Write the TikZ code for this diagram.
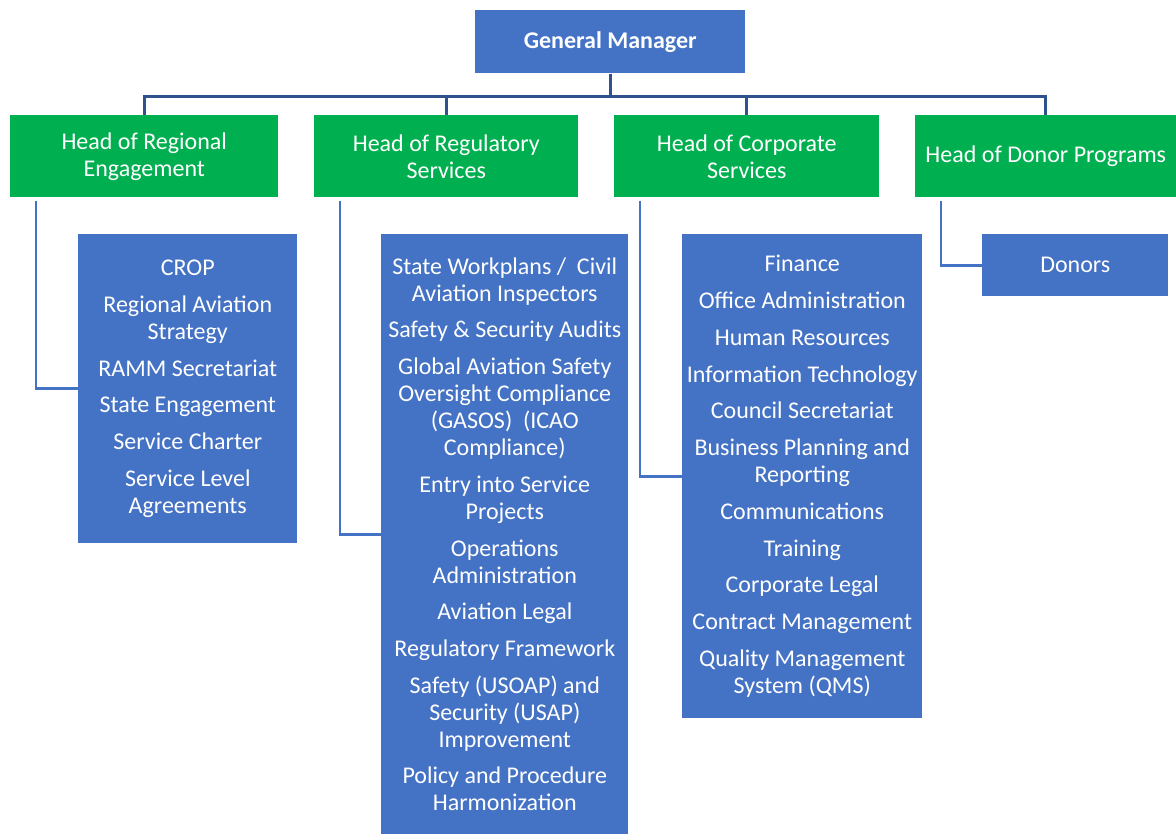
\documentclass[tikz,border=0pt]{standalone}
\usepackage{fontspec}
\setmainfont{Carlito}
\usepackage{tikz}

\definecolor{boxblue}{HTML}{4472C4}
\definecolor{headgreen}{HTML}{00B050}
\definecolor{linkblue}{HTML}{2F528F}
\newcommand{\pix}{0.75pt}
\newcommand{\brk}{\\[7.3pt]}

\begin{document}
\begin{tikzpicture}[x=\pix,y=-\pix,
  box/.style={fill=boxblue,text=white,align=center,anchor=north west,inner sep=0pt,font=\fontsize{18}{20.25}\selectfont},
  head/.style={box,fill=headgreen,minimum height=82*\pix},
  bus/.style={draw=linkblue,line width=2.1pt},
  conn/.style={draw=boxblue,line width=2pt}]

\useasboundingbox (0,0) rectangle (1176,834);

\node[box,minimum width=270*\pix,minimum height=63*\pix,font=\bfseries\fontsize{18}{20.25}\selectfont] (gm) at (475,10) {General Manager};

\foreach \i/\x/\w/\txt in {1/10/268/{Head of Regional\\Engagement},2/314/264/{Head of Regulatory\\Services},3/614/265/{Head of Corporate\\Services},4/915/261/{Head of Donor Programs}}{%
  \node[head,minimum width=\w*\pix] (h\i) at (\x,115) {\txt};}

\node[box,minimum width=219*\pix,minimum height=309*\pix] (s1) at (78,234)
  {CROP\brk Regional Aviation\\Strategy\brk RAMM Secretariat\brk State Engagement\brk
   Service Charter\brk Service Level\\Agreements};
\node[box,minimum width=247*\pix,minimum height=600*\pix] (s2) at (381,234)
  {State Workplans /~ Civil\\Aviation Inspectors\brk Safety \& Security Audits\brk
   Global Aviation Safety\\Oversight Compliance\\(GASOS)~ (ICAO\\Compliance)\brk
   Entry into Service\\Projects\brk Operations\\Administration\brk Aviation Legal\brk
   Regulatory Framework\brk Safety (USOAP) and\\Security (USAP)\\Improvement\brk
   Policy and Procedure\\Harmonization};
\node[box,minimum width=240*\pix,minimum height=484*\pix] (s3) at (682,234)
  {Finance\brk Office Administration\brk Human Resources\brk Information Technology\brk
   Council Secretariat\brk Business Planning and\\Reporting\brk Communications\brk
   Training\brk Corporate Legal\brk Contract Management\brk Quality Management\\System (QMS)};
\node[box,minimum width=186*\pix,minimum height=62*\pix] (s4) at (982,234) {Donors};

% general manager down to the four heads
\foreach \i in {1,...,4}
  \draw[bus] (gm.south) -- ++(0,23) -| (h\i.north);

% each head to its list of units
\foreach \i in {1,...,4}
  \draw[conn] ([shift={(26,3)}]h\i.south west) |- (s\i.west);
\end{tikzpicture}
\end{document}
